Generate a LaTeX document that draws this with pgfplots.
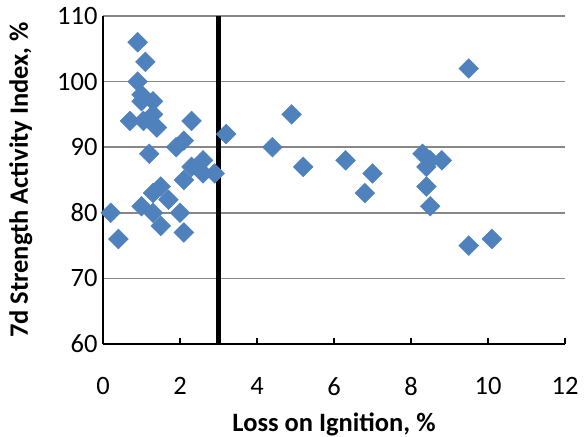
\documentclass[border=0pt]{standalone}
\usepackage{pgfplots}
\pgfplotsset{compat=1.18}
\usepackage{fontspec}
\setmainfont{Carlito}
\definecolor{exblue}{HTML}{4F81BD}
\definecolor{gridgray}{HTML}{878787}
\begin{document}
\begin{tikzpicture}
\begin{axis}[
  scale only axis,
  width=462pt, height=328pt,
  xmin=0, xmax=12, ymin=60, ymax=110,
  xtick={0,2,...,12}, ytick={60,70,...,110},
  axis x line*=bottom, axis y line*=left,
  axis line style={-, black, line width=1.3pt},
  ymajorgrids, grid style={gridgray, line width=1.5pt},
  xtick style={black, line width=1.2pt}, major tick length=6pt,
  xtick align=inside,
  ytick style={draw=none},
  /pgf/number format/assume math mode=true,
  tick label style={font=\fontsize{26.5}{26.5}\selectfont},
  xticklabel style={yshift=-30pt},
  yticklabel style={xshift=-2pt},
  label style={font=\bfseries\fontsize{26.5}{26.5}\selectfont},
  xlabel={Loss on Ignition, \%},
  ylabel={7d Strength Activity Index, \%},
  xlabel style={yshift=-10pt},
  ylabel style={yshift=18pt},
  clip=false,
]
\coordinate (ll) at (rel axis cs:0,0);
\coordinate (ur) at (rel axis cs:1,1);
\addplot[only marks, mark=square*, mark size=7pt,
  mark options={rotate=45, fill=exblue, draw=exblue}]
coordinates {
(0.2,80) (0.4,76) (0.7,94) (0.9,106) (0.9,100) (1.0,98) (1.0,97) (1.0,81)
(1.05,94) (1.1,103) (1.2,89) (1.3,97) (1.3,95) (1.3,83) (1.3,80) (1.4,93)
(1.5,84) (1.5,78) (1.7,82) (1.9,90) (2.0,80) (2.1,91) (2.1,85) (2.1,77)
(2.3,94) (2.3,87) (2.6,88) (2.6,86) (2.9,86) (3.2,92) (4.4,90) (4.9,95)
(5.2,87) (6.3,88) (6.8,83) (7.0,86) (8.3,89) (8.5,88) (8.8,88) (8.4,87)
(8.4,84) (8.5,81) (9.5,102) (9.5,75) (10.1,76)
};
\addplot[black, line width=4.5pt] coordinates {(3,60) (3,110)};
\end{axis}
\pgfresetboundingbox
\path ([shift={(-103pt,-93pt)}]ll) rectangle ([shift={(19pt,16pt)}]ur);
\end{tikzpicture}
\end{document}
